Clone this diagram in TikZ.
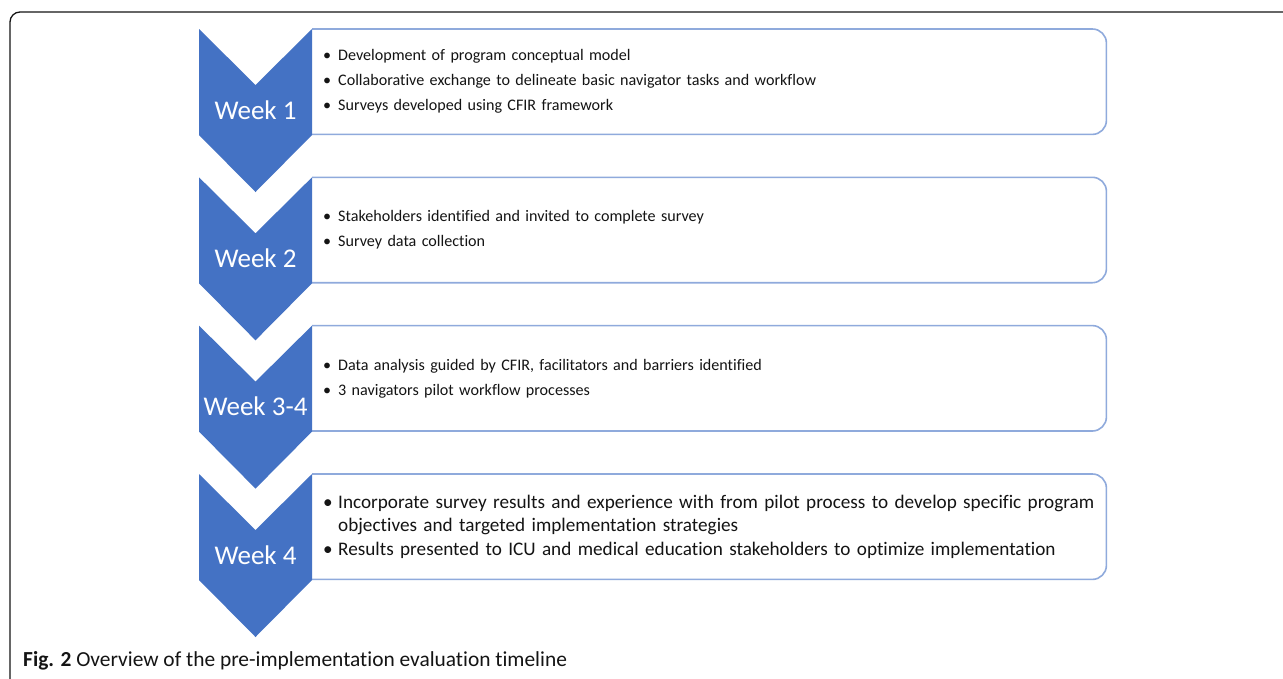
\documentclass[tikz,border=0pt]{standalone}
\usepackage{fontspec}
\setmainfont{Carlito}[Ligatures=NoCommon]
\usetikzlibrary{positioning}

\definecolor{weekblue}{HTML}{4472C4}
\definecolor{boxblue}{HTML}{8FAADC}
\definecolor{inkgray}{HTML}{141414}

\newcommand{\bul}{\makebox[15pt][l]{\textbullet}}
\newcommand{\hang}{\hspace*{15pt}}

\tikzset{
  chevron/.style={fill=weekblue, draw=none},
  weeklabel/.style={text=white, inner sep=0pt, font=\fontsize{27}{30}\selectfont},
  taskbox/.style={anchor=north west, text width=772, inner xsep=11, inner ysep=0,
    minimum height=105, align=left, text=inkgray, font=\fontsize{16.1}{25}\selectfont},
  boxline/.style={draw=boxblue, line width=1.6pt, rounded corners=14pt},
  frameline/.style={draw=inkgray, line width=1.3pt, rounded corners=10pt},
}

\begin{document}
\begin{tikzpicture}[x=1pt, y=-1pt]
    \useasboundingbox (0,0) rectangle (1283,678);
    \fill[white] (0,0) rectangle (1283,678);
    \draw[frameline] (10,700) |- (1300,12);

    % task boxes, sharp on the left where the arrows cover them
    \node[taskbox] (task1) at (312,29) {\bul Development of program conceptual model\\
      \bul Collaborative exchange to delineate basic navigator tasks and workflow\\
      \bul Surveys developed using CFIR framework};
    \node[taskbox] (task2) at (312,177.3) {\bul Stakeholders identified and invited to complete survey\\
      \bul Survey data collection};
    \node[taskbox] (task3) at (312,325.6) {\bul Data analysis guided by CFIR, facilitators and barriers identified\\
      \bul 3 navigators pilot workflow processes};
    \node[taskbox, font=\fontsize{19.2}{23.5}\selectfont] (task4) at (312,474) {%
      \bul Incorporate survey results and experience with from pilot process to develop specific program\\
      \hang objectives and targeted implementation strategies\\
      \bul Results presented to ICU and medical education stakeholders to optimize implementation};
    \foreach \i in {1,...,4}
      \draw[boxline] (task\i.north west) -- (task\i.north east) -- (task\i.south east) -- (task\i.south west);

    % week arrows
    \foreach \y/\wk [count=\i] in {29/1, 177.3/2, 325.6/3-4, 474/4} {
      \fill[chevron] (199,\y) -- ++(56.5,56) -- ++(56.5,-56) -- ++(0,106)
        -- ++(-56.5,57) -- ++(-56.5,-57) -- cycle;
      \node[weeklabel] (week\i) at (255.5,\y+81) {Week \wk};
    }

    \node[anchor=base west, inner sep=0pt, text=inkgray, font=\fontsize{21.4}{25}\selectfont] (caption)
      at (23,666) {\textbf{Fig. 2} Overview of the pre-implementation evaluation timeline};
\end{tikzpicture}
\end{document}
